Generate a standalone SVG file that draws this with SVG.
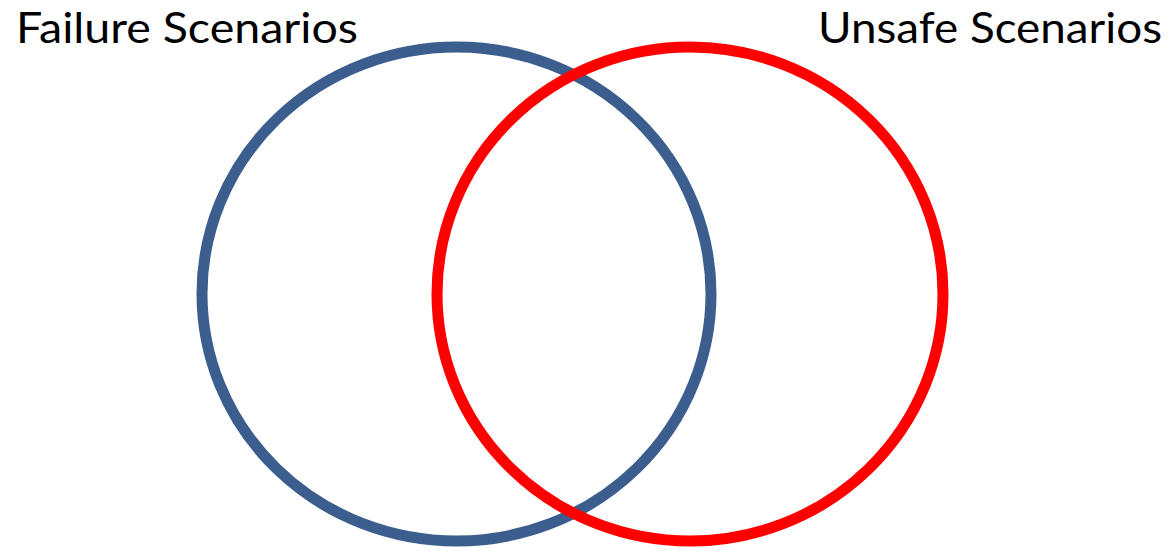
<svg xmlns="http://www.w3.org/2000/svg" width="1171" height="552" viewBox="0 0 1171 552">
  <style>
    .label { font-family: "Lato", "Open Sans", "Liberation Sans", sans-serif; font-size: 42px; fill: #000; }
    .ring { fill: none; stroke-width: 11; }
  </style>
  <rect width="1171" height="552" fill="#fff"/>
  <g id="failure">
    <ellipse class="ring" cx="456.5" cy="294" rx="254.5" ry="247" stroke="#3B5E8E"/>
    <text class="label" x="16" y="43" textLength="342" lengthAdjust="spacingAndGlyphs">Failure Scenarios</text>
  </g>
  <g id="unsafe">
    <ellipse class="ring" cx="690" cy="294" rx="253" ry="247" stroke="#FF0000"/>
    <text class="label" x="818" y="43" textLength="344" lengthAdjust="spacingAndGlyphs">Unsafe Scenarios</text>
  </g>
  <g id="connectors"/>
</svg>
